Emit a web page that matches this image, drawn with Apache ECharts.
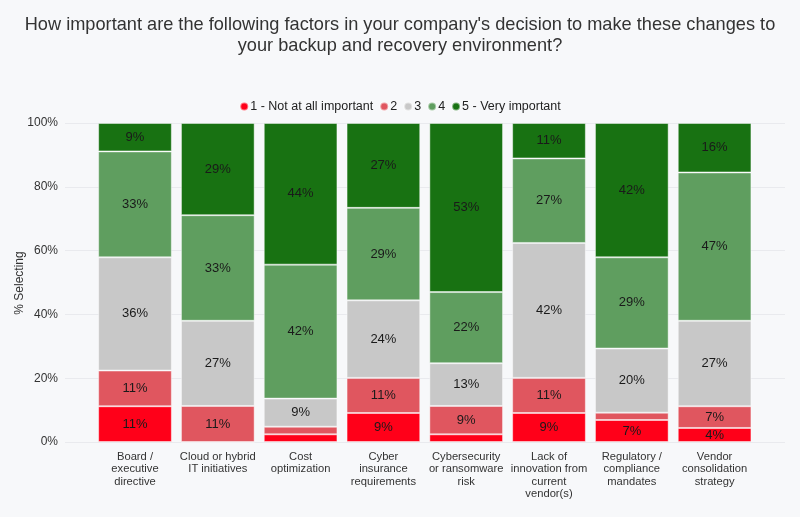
<!DOCTYPE html>
<html>
<head>
<meta charset="utf-8">
<script src="https://cdn.jsdelivr.net/npm/echarts@6/dist/echarts.min.js"></script>
<style>
    html, body { margin: 0; padding: 0; background: #F7F8FA; }
    #main { width: 800px; height: 517px; }
</style>
</head>
<body>
<div id="main"></div>
<script>
// 类别
var categories = ['Board /\nexecutive\ndirective', 'Cloud or hybrid\nIT initiatives', 'Cost\noptimization',
    'Cyber\ninsurance\nrequirements', 'Cybersecurity\nor ransomware\nrisk', 'Lack of\ninnovation from\ncurrent\nvendor(s)',
    'Regulatory /\ncompliance\nmandates', 'Vendor\nconsolidation\nstrategy'];
var seriesNames = ['1 - Not at all important', '2', '3', '4', '5 - Very important'];
// 每个等级的百分比
var lvl1 = [11.2, 0, 2.4, 9.1, 2.4, 9.1, 6.9, 4.4];
var lvl2 = [11.2, 11.3, 2.4, 11.0, 8.9, 11.0, 2.3, 6.8];
var lvl3 = [35.5, 26.7, 8.8, 24.3, 13.4, 42.3, 20.1, 26.8];
var lvl4 = [33.2, 33.1, 42.0, 29.0, 22.3, 26.5, 28.6, 46.5];
var lvl5 = [8.9, 28.9, 44.4, 26.6, 53.0, 11.1, 42.1, 15.5];
var yTicks = [0, 20, 40, 60, 80, 100];
var colors = ['#FF0019', '#E0565F', '#C8C8C8', '#5F9E5F', '#187212'];

var myChart = echarts.init(document.getElementById('main'));

function makeSeries(name, data, i) {
    return {
        name: name,
        type: 'bar',
        stack: 'total',
        xAxisIndex: 1,
        yAxisIndex: 1,
        barCategoryGap: '11%',
        data: data,
        itemStyle: { color: colors[i], borderColor: 'rgba(255,255,255,0.45)', borderWidth: 1 },
        label: {
            show: true,
            position: 'inside',
            fontSize: 13,
            color: '#1a1a1a',
            formatter: function (p) {
                return p.value >= 3.5 ? Math.round(p.value) + '%' : '';
            }
        }
    };
}

var option = {
    backgroundColor: '#F7F8FA',
    textStyle: { fontFamily: 'Liberation Sans, Arial, sans-serif' },
    title: {
        text: "How important are the following factors in your company's decision to make these changes to\nyour backup and recovery environment?",
        left: 'center',
        top: 9,
        textStyle: { fontSize: 18.2, fontWeight: 'normal', color: '#333', lineHeight: 21 }
    },
    legend: {
        data: seriesNames,
        top: 95,
        left: 'center',
        icon: 'circle',
        itemWidth: 8,
        itemHeight: 8,
        itemGap: 6,
        textStyle: { fontSize: 12.5, color: '#222', padding: [0, 0, 0, -3] }
    },
    // y轴标题
    graphic: [{
        type: 'text',
        x: 20,
        y: 283,
        rotation: Math.PI / 2,
        style: {
            text: '% Selecting',
            fontSize: 12,
            fill: '#333',
            fontFamily: 'Liberation Sans, Arial, sans-serif',
            align: 'center',
            verticalAlign: 'middle'
        }
    }],
    grid: [
        { left: 65, right: 15, top: 123, bottom: 75 },
        { left: 93.6, right: 44, top: 123, bottom: 75 }
    ],
    xAxis: [
        { type: 'value', gridIndex: 0, show: false, min: 0, max: 1 },
        {
            type: 'category',
            gridIndex: 1,
            data: categories,
            axisLine: { show: false },
            axisTick: { show: false },
            axisLabel: { interval: 0, fontSize: 11.2, color: '#333', lineHeight: 12.2, margin: 9 }
        }
    ],
    yAxis: [
        {
            type: 'value',
            gridIndex: 0,
            min: 0,
            max: 100,
            interval: 20,
            axisLabel: {
                fontSize: 12, color: '#333', margin: 7,
                formatter: function (v) { return yTicks.indexOf(v) >= 0 ? v + '%' : ''; }
            },
            splitLine: { lineStyle: { color: '#E9EAEE' } },
            axisLine: { show: false },
            axisTick: { show: false }
        },
        { type: 'value', gridIndex: 1, min: 0, max: 100, show: false }
    ],
    series: [
        makeSeries(seriesNames[0], lvl1, 0),
        makeSeries(seriesNames[1], lvl2, 1),
        makeSeries(seriesNames[2], lvl3, 2),
        makeSeries(seriesNames[3], lvl4, 3),
        makeSeries(seriesNames[4], lvl5, 4)
    ]
};
myChart.setOption(option);
</script>
</body>
</html>
